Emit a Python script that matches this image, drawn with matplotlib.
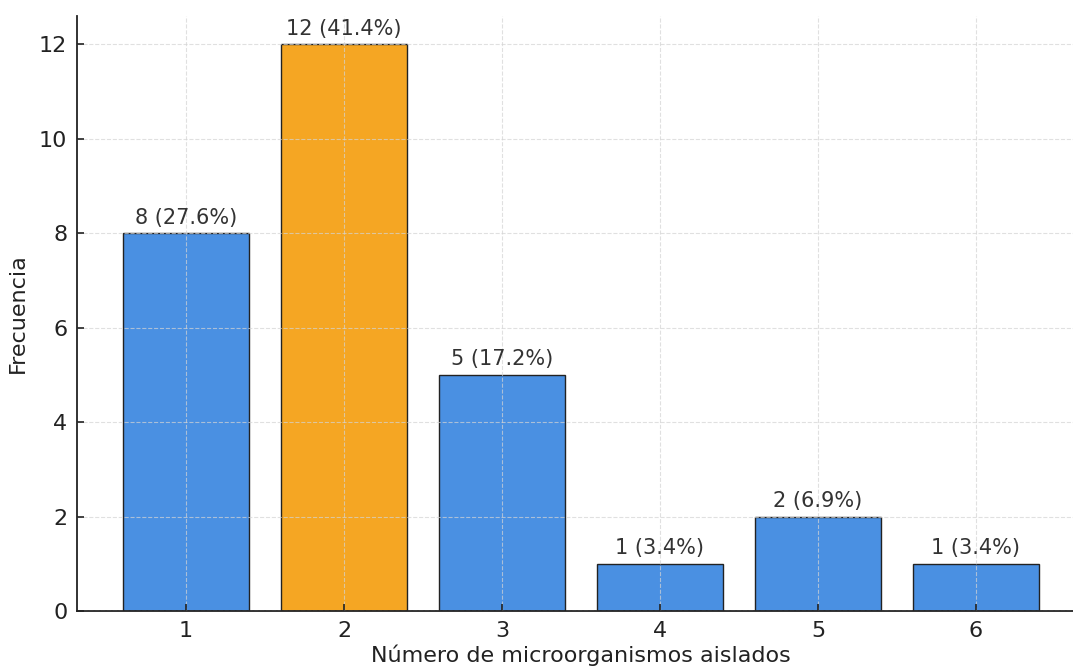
import matplotlib
matplotlib.use('Agg')
import matplotlib.pyplot as plt
import numpy as np

# número de microorganismos aislados por muestra y su frecuencia
categorias = [1, 2, 3, 4, 5, 6]
frecuencias = [8, 12, 5, 1, 2, 1]
porcentajes = [27.6, 41.4, 17.2, 3.4, 6.9, 3.4]

azul = '#4a90e2'
naranja = '#f5a623'
colores = [naranja if f == max(frecuencias) else azul for f in frecuencias]

fig = plt.figure(figsize=(10.73, 6.7), dpi=100)
# el eje se extiende un poco más allá del borde derecho de la figura
ax = fig.add_axes([77 / 1073, 59 / 670, 1008 / 1073, 595 / 670])

ax.bar(categorias, frecuencias, width=0.8, color=colores,
       edgecolor='#222222', linewidth=1.0, zorder=1)

# etiquetas con frecuencia y porcentaje encima de cada barra
for x, f, p in zip(categorias, frecuencias, porcentajes):
    ax.annotate(f'{f} ({p}%)', xy=(x, f), xytext=(0, 4),
                textcoords='offset points', ha='center', va='bottom',
                fontsize=15, color='#333333')

ax.set_xlim(0.31, 6.69)
ax.set_ylim(0, 12.6)
ax.set_xticks(categorias)
ax.set_yticks(np.arange(0, 13, 2))

ax.grid(True, linestyle='--', color='#d4d4d4', linewidth=0.8, alpha=0.7, zorder=3)
ax.set_axisbelow(False)

ax.spines['top'].set_visible(False)
ax.spines['right'].set_visible(False)
ax.spines['left'].set_linewidth(1.3)
ax.spines['bottom'].set_linewidth(1.3)
ax.spines['left'].set_color('#222222')
ax.spines['bottom'].set_color('#222222')

ax.tick_params(axis='both', direction='in', length=5, width=1.2,
               labelsize=16, colors='#222222', pad=7)

ax.set_xlabel('Número de microorganismos aislados', fontsize=16, color='#222222', labelpad=3)
ax.set_ylabel('Frecuencia', fontsize=16, color='#222222', labelpad=8)

fig.savefig('out.png', dpi=100)
